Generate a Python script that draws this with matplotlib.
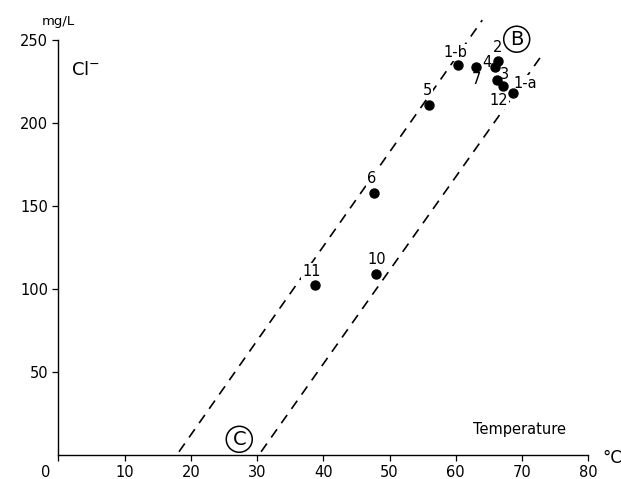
import numpy as np
import matplotlib.pyplot as plt
import matplotlib.transforms as mtransforms
from matplotlib.patches import Ellipse

# sample points (temperature in C, Cl- in mg/L)
labels = ['1-b', '7', '2', '4', '3', '12', '1-a', '5', '6', '11', '10']
temp = [60.4, 63.1, 66.4, 65.9, 66.2, 67.1, 68.6, 55.9, 47.7, 38.7, 47.9]
chloride = [235, 233.5, 237.5, 234, 226, 222.5, 218, 211, 158, 102.5, 109]
label_x = [60.0, 63.1, 66.3, 64.7, 67.4, 66.5, 70.5, 55.7, 47.3, 38.2, 48.1]
label_y = [242.5, 226, 245.5, 236.5, 229.5, 213.5, 224, 219.5, 166.5, 110.5, 117.5]

# the two dashed envelope lines
upper_x = [18.2, 64.0]
upper_y = [2, 262]
lower_x = [30.6, 73.2]
lower_y = [2, 242]

xticks = [0, 10, 20, 30, 40, 50, 60, 70, 80]
yticks = [50, 100, 150, 200, 250]

fig = plt.figure(figsize=(6.21, 4.79), dpi=100)
ax = fig.add_axes([0.0942, 0.050, 0.8530, 0.8664])

ax.plot(upper_x, upper_y, color='black', lw=1.2, dashes=(6, 4.5), clip_on=False)
ax.plot(lower_x, lower_y, color='black', lw=1.2, dashes=(6, 4.5), clip_on=False)

ax.plot(temp, chloride, 'o', color='black', markersize=6.5, clip_on=False, zorder=5)
for lab, lx, ly in zip(labels, label_x, label_y):
    ax.text(lx, ly, lab, fontsize=10.5, ha='center', va='center', zorder=4,
            bbox=dict(facecolor='white', edgecolor='none', pad=0.5))

ax.set_xlim(0, 80)
ax.set_ylim(0, 250)
ax.set_xticks(xticks)
ax.set_yticks(yticks)
ax.tick_params(direction='out', length=4, width=0.9, labelsize=10.5)
for s in ['top', 'right']:
    ax.spines[s].set_visible(False)
for s in ['left', 'bottom']:
    ax.spines[s].set_linewidth(1.0)

# the "0" label sits left of the axis in the original
zero_lab = ax.get_xticklabels()[0]
zero_lab.set_transform(zero_lab.get_transform() +
                       mtransforms.ScaledTranslation(-13 / 100, 0, fig.dpi_scale_trans))

# circled letters
for cx, cy, letter in [(69.2, 250.5, 'B'), (27.3, 9.5, 'C')]:
    w = 26 / 6.62
    h = 26 / 1.662
    ax.add_patch(Ellipse((cx, cy), w, h, fill=False, lw=1.1, color='black', clip_on=False))
    ax.text(cx, cy, letter, fontsize=14, ha='center', va='center')

ax.text(4.1, 232, 'Cl$^{-}$', fontsize=13, ha='center', va='center')
ax.text(69.6, 15.5, 'Temperature', fontsize=10.5, ha='center', va='center')
ax.text(83.6, -2, '°C', fontsize=12, ha='center', va='center', clip_on=False)
ax.text(0, 257, 'mg/L', fontsize=9.5, ha='center', va='bottom', clip_on=False)

fig.savefig('out.png', dpi=100)
